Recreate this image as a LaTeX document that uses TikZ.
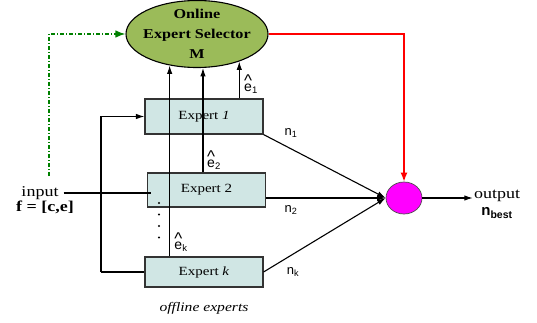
\documentclass[tikz,border=0pt]{standalone}
\usepackage{fontspec}
\setmainfont[FakeStretch=1.2]{Liberation Serif}
\setsansfont{Liberation Sans}
\usetikzlibrary{arrows.meta,shapes.geometric,positioning,calc}
\definecolor{selgreen}{RGB}{155,187,89}
\definecolor{boxteal}{RGB}{208,230,228}
\definecolor{fbgreen}{RGB}{0,128,0}
\definecolor{combpink}{RGB}{255,0,255}
\tikzset{
  sel/.style={ellipse,draw=black,fill=selgreen,line width=1.1pt,minimum width=142pt,
    minimum height=67pt,inner xsep=-12pt,inner ysep=-12pt,align=center,
    font=\bfseries\fontsize{13.5}{20}\selectfont},
  expbox/.style={rectangle,draw=black!80,fill=boxteal,line width=1.1pt,minimum width=118pt,
    minimum height=#1,font=\fontsize{12.5}{14}\selectfont},
  expbox/.default=34pt,
  comb/.style={ellipse,draw=black!70,fill=combpink,line width=0.7pt,minimum width=36pt,
    minimum height=32pt,inner sep=0pt},
  arr/.style={-{Latex[length=8.5pt,width=5.5pt]},line width=1.1pt},
  fb/.style={-{Latex[length=10pt,width=7.5pt]},color=fbgreen,line width=1.4pt,
    dash pattern=on 4pt off 2pt on 1pt off 2pt},
  redlink/.style={-{Latex[length=9pt,width=7pt]},color=red,line width=1.5pt},
  lbl/.style={font=\sffamily\fontsize{13}{15}\selectfont,inner sep=0pt},
  hatlbl/.style={font=\sffamily\fontsize{14}{15}\selectfont,inner sep=0pt},
  txt/.style={font=\fontsize{15}{17}\selectfont,inner sep=1pt}
}
\newcommand{\ehat}[1]{\makebox[0pt][l]{\makebox[0.556em]{\raisebox{5.5pt}{\fontsize{17}{17}\selectfont\^{}}}}e\textsubscript{\fontsize{9.5}{10}\selectfont #1}}

\begin{document}
\begin{tikzpicture}[x=1pt,y=-1pt]
    \useasboundingbox (0,0) rectangle (537,323);
    % Selector
    \node[sel] (sel) at (197,34) {Online\\Expert Selector\\M};

    % Experts
    \node[expbox=35pt] (ex1) at (204,116.5) {Expert \textit{1}};
    \node[expbox=34pt] (ex2) at (206.5,190) {Expert 2};
    \node[expbox=30pt] (exk) at (204,272) {Expert \textit{k}};
    \node[txt,font=\itshape\fontsize{13}{15}\selectfont] (offl) at (204,308) {offline experts};
    \draw[line width=2.2pt,line cap=round,dash pattern=on 0pt off 11.5pt] (159,203) -- (159,238);

    % Input
    \node[txt] (inp) at (40,193) {input};
    \node[txt,font=\bfseries\fontsize{15}{17}\selectfont] (feat) at (45,207) {f = [c,e]};
    \coordinate (bus) at (101,194);
    \coordinate (fbstart) at (49,176);
    \draw[line width=1.1pt] ([xshift=4pt]inp.east) -- ([xshift=4pt]inp.east -| ex2.west);
    \draw[arr] (bus |- exk.west) |- (ex1.west);
    \draw[line width=1.1pt] (bus |- exk.west) -- (exk.west);
    \draw[fb] (fbstart) |- (sel.west);

    % Estimates to selector
    \draw[arr] (ex1.north -| sel.-33) -- (sel.-33);
    \draw[arr] (ex2.north -| sel.-80) -- (sel.-80);
    \draw[arr] (exk.north -| sel.-131) -- (sel.-131);
    \node[hatlbl] (e1) at (251,84) {\ehat{1}};
    \node[hatlbl] (e2) at (214,160) {\ehat{2}};
    \node[hatlbl] (ek) at (181,242) {\ehat{k}};

    % Combiner
    \node[comb] (comb) at (404,198) {};
    \draw[redlink] (sel.east) -| (comb.north);
    \draw[arr] (ex1.south east) -- (comb.west);
    \draw[arr] (comb.west -| ex2.east) -- (comb.west);
    \draw[arr] (exk.east) -- (comb.west);
    \node[lbl] (n1) at (291,133) {n\textsubscript{1}};
    \node[lbl] (n2) at (291,210) {n\textsubscript{2}};
    \node[lbl] (nk) at (293,272) {n\textsubscript{k}};

    % Output
    \node[txt] (outp) at (497,196) {output};
    \node[lbl,font=\sffamily\bfseries\fontsize{15}{17}\selectfont] (best) at (497,213) {n\textsubscript{best}};
    \draw[arr] (comb.east) -- (comb.east -| outp.west);
  \end{tikzpicture}
\end{document}
